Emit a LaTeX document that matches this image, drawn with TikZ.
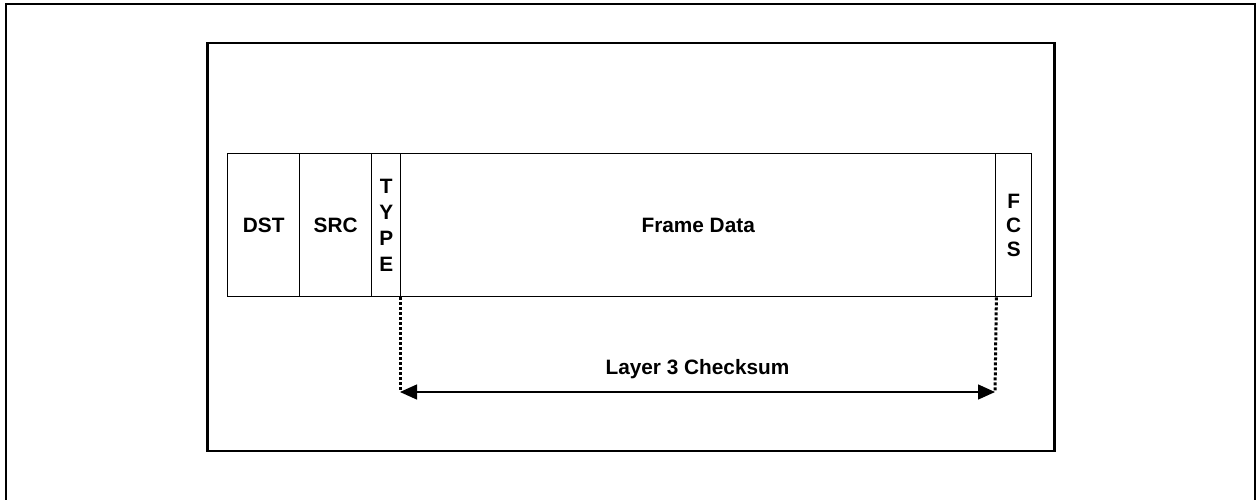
\documentclass[tikz,border=0pt]{standalone}
\usepackage{fontspec}
\setmainfont{Liberation Sans}
\usetikzlibrary{arrows.meta}
\begin{document}
\begin{tikzpicture}[x=1pt,y=-1pt,
  field/.style={draw, line width=1.4pt, inner sep=0pt, align=center,
    minimum height=143pt, anchor=north west,
    font=\bfseries\fontsize{20.8}{26}\selectfont},
  lbl/.style={font=\bfseries\fontsize{20.8}{24}\selectfont, inner sep=0pt},
  guide/.style={line width=3pt, dash pattern=on 3pt off 2pt},
  span/.style={line width=1.4pt, {Triangle[length=17pt,width=15pt]}-{Triangle[length=17pt,width=15pt]}}]
\useasboundingbox (0,0) rectangle (1256,499);
\draw[line width=2pt] (6,4) rectangle (1255,540);
\draw[line width=2.4pt] (207.5,43) rectangle (1054.5,451);
\node[field, minimum width=72pt] (dst) at (227,153) {DST};
\node[field, minimum width=72pt] (src) at (299,153) {SRC};
\node[field, minimum width=29pt] (type) at (371,153) {T\\Y\\P\\E};
\node[field, minimum width=595pt] (data) at (400,153) {Frame Data};
\node[field, minimum width=36pt, font=\bfseries\fontsize{20.8}{24}\selectfont] (fcs) at (995,153) {F\\C\\S};
\coordinate (l) at (400,392);
\coordinate (r) at (995,392);
\draw[guide] (data.south west) -- (l);
\draw[guide] (data.south east) -- (r);
\draw[span] (l) -- (r);
\node[lbl] (cks) at (697.5,369) {Layer 3 Checksum};
\end{tikzpicture}
\end{document}
